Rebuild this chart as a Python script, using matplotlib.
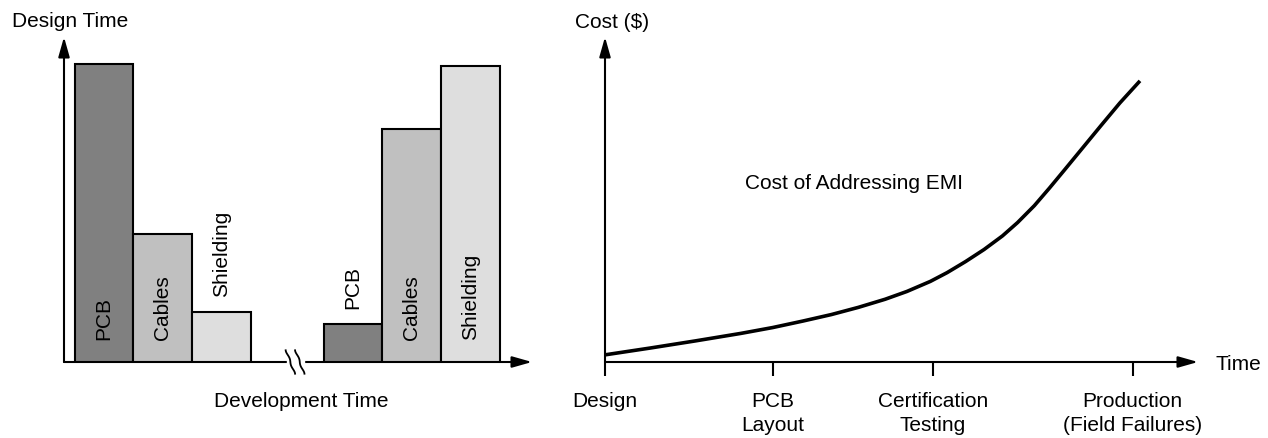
import numpy as np
import matplotlib.pyplot as plt

# left chart: design time spent per item, early vs late in development
bar_labels = ['PCB', 'Cables', 'Shielding', 'PCB', 'Cables', 'Shielding']
bar_heights = [91.7, 39.4, 15.4, 11.7, 71.7, 91.1]
bar_centers = [0.679, 1.679, 2.679, 4.921, 5.921, 6.921]
bar_colors = ['#808080', '#c0c0c0', '#dedede', '#808080', '#c0c0c0', '#dedede']
break_x = 3.935

# right chart: cost of addressing EMI over time
stage_labels = ['Design', 'PCB\nLayout', 'Certification\nTesting', 'Production\n(Field Failures)']
stage_x = [0.0, 1.0, 1.954, 3.147]
curve_x = [0.0, 0.27, 0.54, 0.81, 1.0, 1.18, 1.35, 1.51, 1.67, 1.80, 1.94, 2.04,
           2.15, 2.26, 2.37, 2.46, 2.56, 2.65, 2.74, 2.85, 2.96, 3.07, 3.19]
curve_y = [2.2, 4.3, 6.5, 8.8, 10.6, 12.6, 14.6, 16.8, 19.3, 21.7, 24.8, 27.5,
           30.9, 34.6, 38.8, 42.9, 48.1, 53.5, 59.1, 66.0, 72.9, 79.7, 86.5]

W, H = 1268, 439
fig = plt.figure(figsize=(W / 100, H / 100), dpi=100)
plt.rcParams['font.family'] = ['Liberation Sans', 'DejaVu Sans']
FS = 15


def px_axes(x0, y0, x1, y1):
    ax = fig.add_axes([x0 / W, 1 - y1 / H, (x1 - x0) / W, (y1 - y0) / H])
    ax.set_ylim(0, 100)
    ax.axis('off')
    return ax


def draw_arrows(ax):
    arrow = dict(arrowstyle='-|>,head_length=0.6,head_width=0.17', lw=1.5,
                 color='black', mutation_scale=20, shrinkA=0, shrinkB=0)
    ax.annotate('', xy=(1, 0), xytext=(0, 0), xycoords='axes fraction', arrowprops=arrow)
    ax.annotate('', xy=(0, 1), xytext=(0, 0), xycoords='axes fraction', arrowprops=arrow)


# ---- left panel ----
axL = px_axes(64, 38, 532, 363)
axL.set_xlim(0, 7.97)
draw_arrows(axL)
axL.bar(bar_centers, bar_heights, width=1.0, color=bar_colors,
        edgecolor='black', linewidth=1.5, zorder=3)
for c, h, lab in zip(bar_centers, bar_heights, bar_labels):
    # labels that don't fit inside a short bar sit on top of it
    y = 7.1 if h > 30 else h + 4.8
    axL.text(c, y, lab, rotation=90, ha='center', va='bottom', fontsize=FS, zorder=4)

# axis break
axL.add_patch(plt.Rectangle((break_x - 0.145, -0.8), 0.29, 1.6, color='white',
                            zorder=5, clip_on=False))
t = np.linspace(-1, 1, 60)
for dx in (-0.08, 0.08):
    axL.plot(break_x + dx + 0.06 * np.sin(np.pi * t / 2) ** 3 + 0.02 * t,
             -3.6 * t, color='black', lw=1.3, zorder=6, clip_on=False)

fig.text(12 / W, 1 - 27 / H, 'Design Time', fontsize=FS, ha='left', va='baseline')
fig.text(301 / W, 1 - 407 / H, 'Development Time', fontsize=FS,
         ha='center', va='baseline')

# ---- right panel ----
axR = px_axes(605, 38, 1198, 363)
axR.set_xlim(0, 3.536)
draw_arrows(axR)
axR.plot(curve_x, curve_y, color='black', lw=2.6, solid_capstyle='butt',
         solid_joinstyle='round')
axR.vlines(stage_x, -4.4, 0, color='black', lw=1.5, clip_on=False)
for x, lab in zip(stage_x, stage_labels):
    axR.text(x, -9.0, lab, ha='center', va='top', fontsize=FS, linespacing=1.3)
axR.text(1.485, 55.1, 'Cost of Addressing EMI', ha='center', va='center', fontsize=FS)

fig.text(575 / W, 1 - 28 / H, 'Cost ($)', fontsize=FS, ha='left', va='baseline')
fig.text(1215 / W, 1 - 370 / H, 'Time', fontsize=FS, ha='left', va='baseline')

fig.savefig('out.png', dpi=100)
